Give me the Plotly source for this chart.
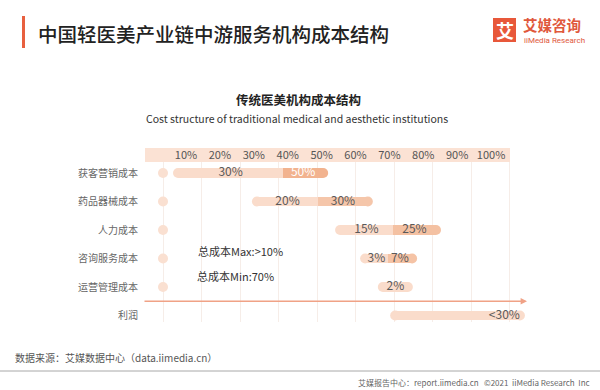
import plotly.graph_objects as go

# ---------------- data ----------------
categories = ['获客营销成本', '药品器械成本', '人力成本', '咨询服务成本', '运营管理成本', '利润']
seg1_start = [3.9, 24.4, 46.0, 52.5, 57.1, 60.3]
seg1_end = [31.2, 40.3, 59.7, 58.4, 63.6, 92.7]
seg2_end = [41.6, 53.2, 70.9, 64.7, None, None]
seg1_labels = ['30%', '20%', '15%', '3%', '2%', '<30%']
seg2_labels = ['50%', '30%', '25%', '7%', '', '']
dot_rows = categories[:5]
grid_vals = [0, 10, 20, 30, 40, 50, 60, 70, 80, 90]
top_tick_vals = [10, 20, 30, 40, 50, 60, 70, 80, 90, 100]
top_tick_text = ['10%', '20%', '30%', '40%', '50%', '60%', '70%', '80%', '90%', '100%']
notes = ['总成本Max:>10%', '总成本Min:70%']

# ---------------- layout geometry ----------------
W, H = 600, 390
L, R, T, B = 143, 73, 162, 68
PW, PH = W - L - R, H - T - B
FONT = 'Noto Sans CJK SC'


def fx(p):
    return (p - L) / PW


def fy(p):
    return (H - B - p) / PH


LIGHT = '#fadccb'
DARK = ['#f2b38f', '#f5c6aa', '#f4c1a2', '#f5c3a5']
TXT = '#5a5a5a'

fig = go.Figure()

# segment 1 (light)
fig.add_trace(go.Bar(
    y=categories, x=[e - s for s, e in zip(seg1_start, seg1_end)], base=seg1_start,
    orientation='h', width=0.35, marker=dict(color=LIGHT, line=dict(width=0)),
    hoverinfo='skip', showlegend=False))

# segment 2 (darker)
s2_cats = [c for c, e in zip(categories, seg2_end) if e is not None]
s2_base = [b for b, e in zip(seg1_end, seg2_end) if e is not None]
s2_len = [e - b for b, e in zip(seg1_end, seg2_end) if e is not None]
fig.add_trace(go.Bar(
    y=s2_cats, x=s2_len, base=s2_base,
    orientation='h', width=0.35, marker=dict(color=DARK[:len(s2_cats)], line=dict(width=0)),
    hoverinfo='skip', showlegend=False))

# rounded caps
end_x = [e2 if e2 is not None else e1 for e1, e2 in zip(seg1_end, seg2_end)]
end_col = [DARK[i] if seg2_end[i] is not None else LIGHT for i in range(len(categories))]
fig.add_trace(go.Scatter(
    y=categories, x=seg1_start, mode='markers',
    marker=dict(size=10, color=LIGHT, line=dict(width=0)), hoverinfo='skip', showlegend=False))
fig.add_trace(go.Scatter(
    y=categories, x=end_x, mode='markers',
    marker=dict(size=10, color=end_col, line=dict(width=0)), hoverinfo='skip', showlegend=False))

# left dots
fig.add_trace(go.Scatter(
    y=dot_rows, x=[grid_vals[0]] * len(dot_rows), mode='markers',
    marker=dict(size=10, color='#fae0d1', line=dict(width=0)), hoverinfo='skip', showlegend=False))

# labels for segment 1 (centered), last row anchored at end
n = len(categories)
fig.add_trace(go.Scatter(
    y=categories[:n - 1],
    x=[(s + e) / 2 for s, e in zip(seg1_start[:n - 1], seg1_end[:n - 1])],
    text=seg1_labels[:n - 1], mode='text', textposition='middle center',
    textfont=dict(family=FONT, size=12, color=TXT), hoverinfo='skip', showlegend=False))
fig.add_trace(go.Scatter(
    y=categories[n - 1:], x=seg1_end[n - 1:], text=seg1_labels[n - 1:],
    mode='text', textposition='middle left',
    textfont=dict(family=FONT, size=12, color=TXT), hoverinfo='skip', showlegend=False))

# labels for segment 2
s2_lab = [l for l, e in zip(seg2_labels, seg2_end) if e is not None]
s2_mid = [b + ln / 2 for b, ln in zip(s2_base, s2_len)]
fig.add_trace(go.Scatter(
    y=s2_cats, x=s2_mid, text=s2_lab, mode='text', textposition='middle center',
    textfont=dict(family=FONT, size=12, color=['#ffffff'] + [TXT] * (len(s2_cats) - 1)),
    hoverinfo='skip', showlegend=False))

# invisible trace on top axis so it renders
fig.add_trace(go.Scatter(x=[top_tick_vals[0]], y=[categories[0]], xaxis='x2', mode='markers',
                         marker=dict(opacity=0), hoverinfo='skip', showlegend=False))

shapes = [
    # top band
    dict(type='rect', xref='paper', yref='paper', x0=fx(145), x1=fx(510), y0=1.0, y1=fy(148),
         fillcolor='#fbe2d4', line=dict(width=0), layer='below'),
    # title accent
    dict(type='rect', xref='paper', yref='paper', x0=fx(22), x1=fx(25), y0=fy(48), y1=fy(16),
         fillcolor='#e8603f', line=dict(width=0)),
    # logo square
    dict(type='rect', xref='paper', yref='paper', x0=fx(493), x1=fx(516), y0=fy(42), y1=fy(18),
         fillcolor='#e8583a', line=dict(width=0)),
    # footer line
    dict(type='line', xref='paper', yref='paper', x0=fx(0), x1=fx(600), y0=fy(371), y1=fy(371),
         line=dict(color='#a8a8a8', width=1)),
]

annotations = [
    dict(text='中国轻医美产业链中游服务机构成本结构', xref='paper', yref='paper',
         x=fx(36), y=fy(33), xanchor='left', yanchor='middle', showarrow=False,
         font=dict(family=FONT, size=19.5, color='#222222', weight=500)),
    dict(text='<b>艾</b>', xref='paper', yref='paper', x=fx(504.5), y=fy(30),
         xanchor='center', yanchor='middle', showarrow=False,
         font=dict(family=FONT, size=18, color='#ffffff')),
    dict(text='<b>艾媒咨询</b>', xref='paper', yref='paper', x=fx(521), y=fy(24),
         xanchor='left', yanchor='middle', showarrow=False,
         font=dict(family=FONT, size=14.5, color='#e0583c')),
    dict(text='iiMedia Research', xref='paper', yref='paper', x=fx(522), y=fy(40),
         xanchor='left', yanchor='middle', showarrow=False,
         font=dict(family='Liberation Sans Narrow, Roboto', size=8, color='#e0583c')),
    dict(text='<b>传统医美机构成本结构</b>', xref='paper', yref='paper', x=fx(298), y=fy(99),
         xanchor='center', yanchor='middle', showarrow=False,
         font=dict(family=FONT, size=12.5, color='#222222')),
    dict(text='Cost structure of traditional medical and aesthetic institutions', xref='paper',
         yref='paper', x=fx(297), y=fy(118), xanchor='center', yanchor='middle', showarrow=False,
         font=dict(family=FONT, size=10.5, color='#333333')),
    dict(text=notes[0], xref='x', yref='y', x=8.6, y=2.72, xanchor='left', yanchor='middle',
         showarrow=False, font=dict(family=FONT, size=11, color='#333333')),
    dict(text=notes[1], xref='x', yref='y', x=8.4, y=3.6, xanchor='left', yanchor='middle',
         showarrow=False, font=dict(family=FONT, size=11, color='#333333')),
    # arrow line
    dict(text='', xref='paper', yref='y', x=1.0, y=4.5, ax=-PW, ay=0, axref='pixel', ayref='pixel',
         showarrow=True, arrowhead=2, arrowsize=0.8, arrowwidth=1.6, arrowcolor='#f0a286'),
    dict(text='数据来源：艾媒数据中心（data.iimedia.cn）', xref='paper', yref='paper',
         x=fx(13), y=fy(357), xanchor='left', yanchor='middle', showarrow=False,
         font=dict(family=FONT, size=10, color='#555555')),
    dict(text='艾媒报告中心：report.iimedia.cn   ©2021  iiMedia Research  Inc', xref='paper',
         yref='paper', x=fx(592), y=fy(382), xanchor='right', yanchor='middle', showarrow=False,
         font=dict(family=FONT, size=8, color='#666666')),
]

fig.update_layout(
    width=W, height=H, margin=dict(l=L, r=R, t=T, b=B, pad=0),
    paper_bgcolor='white', plot_bgcolor='white', barmode='overlay', bargap=0,
    font=dict(family=FONT),
    xaxis=dict(range=[-5.195, 94.545], tickvals=grid_vals, showticklabels=False,
               showgrid=True, gridcolor='#f6ede8', gridwidth=1, zeroline=False,
               showline=False, ticks='', fixedrange=True),
    xaxis2=dict(overlaying='x', side='top', range=[-2.69, 110.6], tickvals=top_tick_vals,
                ticktext=top_tick_text, showgrid=False, zeroline=False, showline=False,
                ticks='', ticklabelstandoff=0,
                tickfont=dict(family=FONT, size=11, color='#555555')),
    yaxis=dict(type='category', categoryorder='array', categoryarray=categories,
               range=[5.228, -0.386], showgrid=False, zeroline=False, showline=False,
               ticks='', ticklabelstandoff=4,
               tickfont=dict(family=FONT, size=10, color='#666666')),
    shapes=shapes, annotations=annotations, showlegend=False,
)

fig.write_html('out.html', config={'displayModeBar': False},
               post_script="document.body.style.margin='0';")
